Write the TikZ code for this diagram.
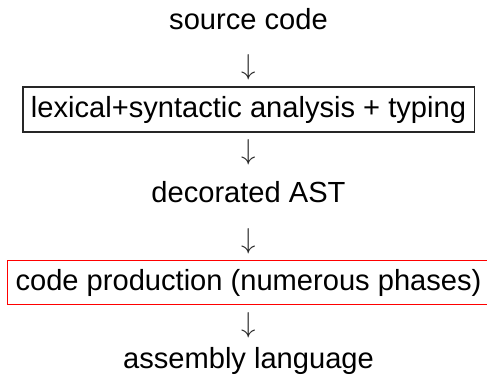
\documentclass[tikz,border=0pt]{standalone}
\usepackage{graphicx}
\usepackage{fontspec}
\setmainfont{Liberation Sans}
\newcommand{\dnarrow}{\scalebox{1.157}{$\downarrow$}}
\begin{document}
\begin{tikzpicture}[x=1pt,y=-1pt,
  lbl/.style={font=\fontsize{29.1}{34}\selectfont, inner sep=0pt, anchor=base},
  arr/.style={font=\fontsize{24.88}{30}\selectfont, inner sep=0pt, anchor=center, text=black!85},
  boxed/.style={font=\fontsize{29.1}{34}\selectfont, anchor=center, draw=black!85, line width=1.1pt, inner xsep=8pt, inner ysep=0pt, minimum height=45pt},
  redboxed/.style={font=\fontsize{29.1}{34}\selectfont, anchor=center, draw=red, line width=1.1pt, inner xsep=8pt, inner ysep=0pt, minimum height=44pt}]
\useasboundingbox (0,0) rectangle (487,382);
\node[lbl] (src) at (248.5,30) {source code};
\node[arr] (a1) at (248.5,67) {\dnarrow};
\node[boxed] (lex) at (248.5,109.5) {lexical+syntactic analysis + typing};
\node[arr] (a2) at (248.5,152) {\dnarrow};
\node[lbl] (ast) at (248.5,203) {decorated AST};
\node[arr] (a3) at (248.5,241) {\dnarrow};
\node[redboxed] (prod) at (248.5,282.7) {code production (numerous phases)};
\node[arr] (a4) at (248.5,325.5) {\dnarrow};
\node[lbl] (asm) at (248.5,368) {assembly language};
\end{tikzpicture}
\end{document}
